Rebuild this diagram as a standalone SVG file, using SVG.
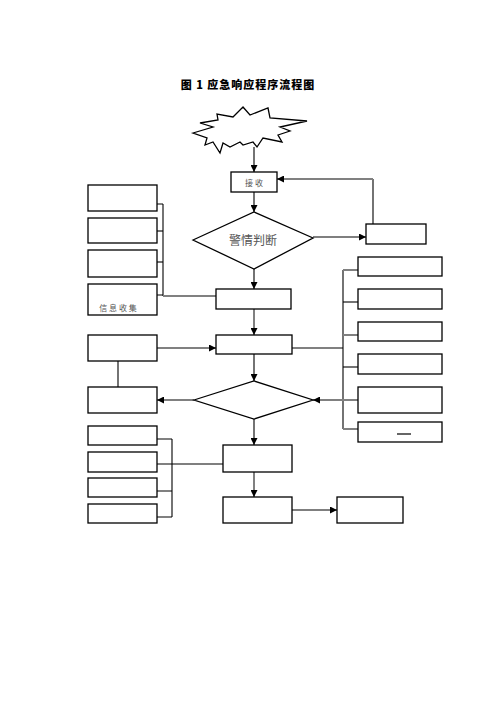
<svg xmlns="http://www.w3.org/2000/svg" width="496" height="702" viewBox="0 0 496 702">
<style>
.box{fill:#fff;stroke:#000;stroke-width:1.3}
.ln{fill:none;stroke:#000;stroke-width:1.1}
.gl{fill:none;stroke:#808080;stroke-width:2}
.t{font-family:"Noto Sans CJK SC","Noto Sans CJK JP",sans-serif;fill:#555;text-anchor:middle}
</style>
<defs>
<marker id="ah" viewBox="0 0 10 10" refX="10" refY="5" markerWidth="7" markerHeight="7" markerUnits="userSpaceOnUse" orient="auto">
<path d="M0,0 L10,5 L0,10 z" fill="#000"/>
</marker>
</defs>
<rect width="496" height="702" fill="#fff"/>
<text x="248" y="89" font-family="'Noto Sans CJK SC',sans-serif" font-size="11" font-weight="900" letter-spacing="1" text-anchor="middle" fill="#000">图 1 应急响应程序流程图</text>

<g id="connectors">
<line class="ln" x1="254" y1="147" x2="254" y2="172" marker-end="url(#ah)"/>
<polyline class="ln" points="373,224 373,179"/>
<line class="gl" x1="373" y1="179" x2="277" y2="179" marker-end="url(#ah)"/>
<line class="ln" x1="254" y1="192" x2="254" y2="212" marker-end="url(#ah)"/>
<line class="ln" x1="313" y1="237" x2="366" y2="237" marker-end="url(#ah)"/>
<line class="ln" x1="254" y1="269" x2="254" y2="289" marker-end="url(#ah)"/>
<line class="gl" x1="157" y1="204" x2="163" y2="204"/>
<line class="ln" x1="157" y1="231" x2="163" y2="231"/>
<line class="ln" x1="157" y1="262" x2="163" y2="262"/>
<line class="gl" x1="157" y1="295" x2="163" y2="295"/>
<line class="ln" x1="163" y1="204" x2="163" y2="296"/>
<line class="gl" x1="163" y1="296" x2="216" y2="296"/>
<line class="gl" x1="254" y1="309" x2="254" y2="335" marker-end="url(#ah)"/>
<line class="gl" x1="157" y1="348" x2="216" y2="348" marker-end="url(#ah)"/>
<line class="ln" x1="118" y1="361" x2="118" y2="387"/>
<line class="gl" x1="194" y1="400" x2="157" y2="400" marker-end="url(#ah)"/>
<line class="ln" x1="254" y1="354" x2="254" y2="381" marker-end="url(#ah)"/>
<line class="gl" x1="292" y1="348" x2="343" y2="348"/>
<line class="ln" x1="343" y1="270" x2="343" y2="429"/>
<line class="gl" x1="343" y1="270" x2="358" y2="270"/>
<line class="ln" x1="343" y1="302" x2="358" y2="302"/>
<line class="gl" x1="343" y1="335" x2="358" y2="335"/>
<line class="ln" x1="343" y1="367" x2="358" y2="367"/>
<line class="gl" x1="343" y1="429" x2="358" y2="429"/>
<line class="gl" x1="358" y1="400" x2="313" y2="400" marker-end="url(#ah)"/>
<line class="ln" x1="254" y1="419" x2="254" y2="445" marker-end="url(#ah)"/>
<line class="gl" x1="157" y1="439" x2="172" y2="439"/>
<line class="gl" x1="157" y1="464" x2="172" y2="464"/>
<line class="gl" x1="157" y1="491" x2="172" y2="491"/>
<line class="gl" x1="157" y1="517" x2="172" y2="517"/>
<line class="ln" x1="172" y1="439" x2="172" y2="517"/>
<line class="ln" x1="172" y1="464" x2="223" y2="464"/>
<line class="gl" x1="254" y1="472" x2="254" y2="497" marker-end="url(#ah)"/>
<line class="ln" x1="292" y1="510" x2="337" y2="510" marker-end="url(#ah)"/>
</g>

<g id="start">
<polygon class="box" points="193,133 213,127 200,123 218,120 217,114 233,117 243,107 250,115 268,108 270,118 307,121 280,127 290,131 278,135 282,142 263,138 257,147 253,142 243,145 240,142 230,147 223,143 220,153 213,142 205,145 207,138"/>
</g>
<g id="receive">
<rect class="box" x="231" y="172" width="46" height="20"/>
<text class="t" x="254" y="186" font-size="8">接 收</text>
</g>
<g id="feedback">
<rect class="box" x="366" y="224" width="60" height="20"/>
</g>
<g id="judge">
<polygon class="box" points="193,240 254,212 313,238 254,269"/>
<text class="t" x="253" y="245" font-size="12">警情判断</text>
</g>
<g id="start-response">
<rect class="box" x="216" y="289" width="75" height="20"/>
</g>
<g id="l1"><rect class="box" x="88" y="185" width="69" height="26"/></g>
<g id="l2"><rect class="box" x="88" y="218" width="69" height="25"/></g>
<g id="l3"><rect class="box" x="88" y="250" width="69" height="27"/></g>
<g id="l4"><rect class="box" x="88" y="284" width="69" height="31"/>
<text class="t" x="118" y="311" font-size="8">信 息 收 集</text></g>
<g id="action"><rect class="box" x="216" y="335" width="76" height="19"/></g>
<g id="l5"><rect class="box" x="88" y="335" width="69" height="26"/></g>
<g id="l6"><rect class="box" x="88" y="387" width="69" height="26"/></g>
<g id="judge2"><polygon class="box" points="194,400 254,381 313,400 254,419"/></g>
<g id="r1"><rect class="box" x="358" y="257" width="84" height="19"/></g>
<g id="r2"><rect class="box" x="358" y="289" width="84" height="20"/></g>
<g id="r3"><rect class="box" x="358" y="322" width="84" height="19"/></g>
<g id="r4"><rect class="box" x="358" y="354" width="84" height="20"/></g>
<g id="r5"><rect class="box" x="358" y="387" width="84" height="26"/></g>
<g id="r6"><rect class="box" x="358" y="422" width="84" height="20"/>
<line x1="397" y1="434" x2="411" y2="434" stroke="#000" stroke-width="1.2"/></g>
<g id="b1"><rect class="box" x="88" y="426" width="69" height="19"/></g>
<g id="b2"><rect class="box" x="88" y="452" width="69" height="20"/></g>
<g id="b3"><rect class="box" x="88" y="478" width="69" height="19"/></g>
<g id="b4"><rect class="box" x="88" y="504" width="69" height="19"/></g>
<g id="recover"><rect class="box" x="223" y="445" width="69" height="27"/></g>
<g id="end"><rect class="box" x="223" y="497" width="69" height="26"/></g>
<g id="final"><rect class="box" x="337" y="497" width="66" height="26"/></g>
</svg>
